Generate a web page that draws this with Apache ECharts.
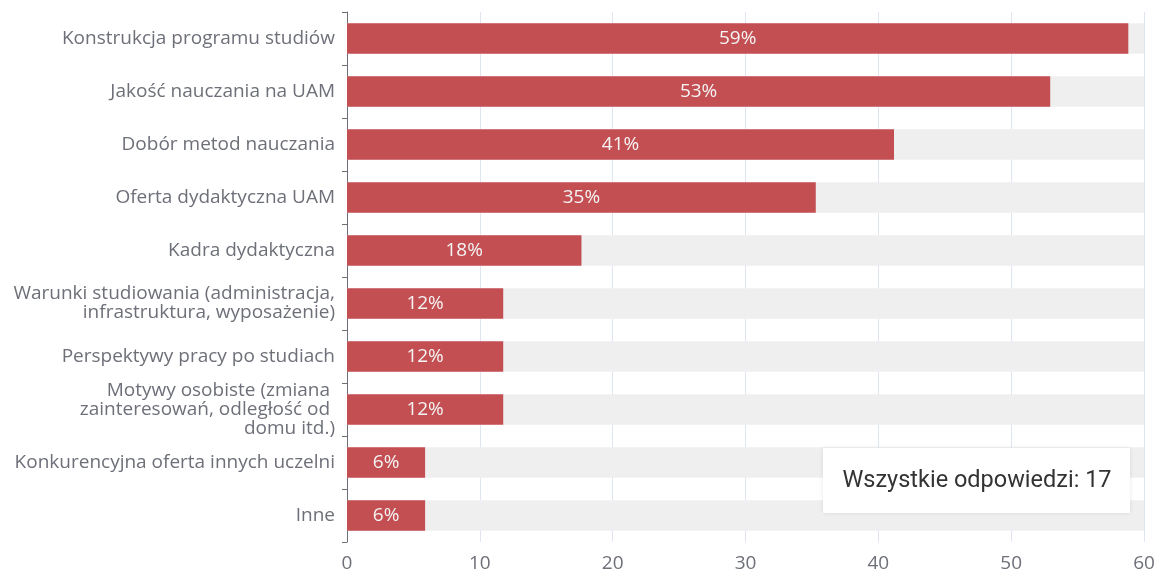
<!DOCTYPE html>
<html>
<head>
<meta charset="utf-8">
<script src="https://cdn.jsdelivr.net/npm/echarts@6/dist/echarts.min.js"></script>
<style>
  html, body { margin: 0; padding: 0; background: #fff; }
  #chart { width: 1158px; height: 573px; }
</style>
</head>
<body>
<div id="chart"></div>
<script>
// Reasons given (share of all 17 answers, %)
const categories = [
  'Konstrukcja programu studiów',
  'Jakość nauczania na UAM',
  'Dobór metod nauczania',
  'Oferta dydaktyczna UAM',
  'Kadra dydaktyczna',
  'Warunki studiowania (administracja,\ninfrastruktura, wyposażenie)',
  'Perspektywy pracy po studiach',
  'Motywy osobiste (zmiana \nzainteresowań, odległość od \ndomu itd.)',
  'Konkurencyjna oferta innych uczelni',
  'Inne'
];
const shares = [58.82, 52.94, 41.18, 35.29, 17.65, 11.76, 11.76, 11.76, 5.88, 5.88];
const xTicks = [0, 10, 20, 30, 40, 50, 60];
const totalLabel = 'Wszystkie odpowiedzi: 17';

const chart = echarts.init(document.getElementById('chart'), null, { renderer: 'canvas' });
const font = '"Open Sans", "Noto Sans", sans-serif';

chart.setOption({
  animation: false,
  grid: { left: 347, right: 14, top: 12, bottom: 31, containLabel: false },
  xAxis: {
    type: 'value',
    min: xTicks[0],
    max: xTicks[xTicks.length - 1],
    interval: 10,
    axisLine: { show: false },
    axisTick: { show: false },
    axisLabel: { color: '#6e7079', fontSize: 19, fontFamily: font, margin: 12 },
    splitLine: { show: true, lineStyle: { color: '#e0e6f1', width: 1 } }
  },
  yAxis: {
    type: 'category',
    inverse: true,
    data: categories,
    axisLine: { show: true, lineStyle: { color: '#6e7079', width: 1 } },
    axisTick: { show: true, length: 5, lineStyle: { color: '#6e7079' } },
    axisLabel: {
      color: '#6e7079', fontSize: 19, fontFamily: font,
      lineHeight: 19, margin: 12, align: 'right'
    },
    splitLine: { show: false }
  },
  series: [{
    type: 'bar',
    data: shares,
    barWidth: '58%',
    itemStyle: { color: '#c44f53' },
    showBackground: true,
    backgroundStyle: { color: '#efefef' },
    label: {
      show: true,
      position: 'inside',
      color: '#f4f4f4',
      fontSize: 19,
      fontFamily: font,
      formatter: p => Math.round(p.value) + '%'
    }
  }],
  // Total-responses note in the lower right corner
  graphic: [{
    type: 'group',
    left: 823,
    top: 448,
    z: 100,
    children: [{
      type: 'rect',
      z: 100,
      shape: { x: 0, y: 0, width: 307, height: 65 },
      style: { fill: '#ffffff', shadowBlur: 4, shadowColor: 'rgba(0,0,0,0.10)' }
    }, {
      type: 'text',
      z: 101,
      x: 154,
      y: 33,
      style: {
        text: totalLabel,
        fill: '#333333',
        font: '23.5px Roboto, sans-serif',
        align: 'center',
        verticalAlign: 'middle'
      }
    }]
  }]
});
</script>
</body>
</html>
